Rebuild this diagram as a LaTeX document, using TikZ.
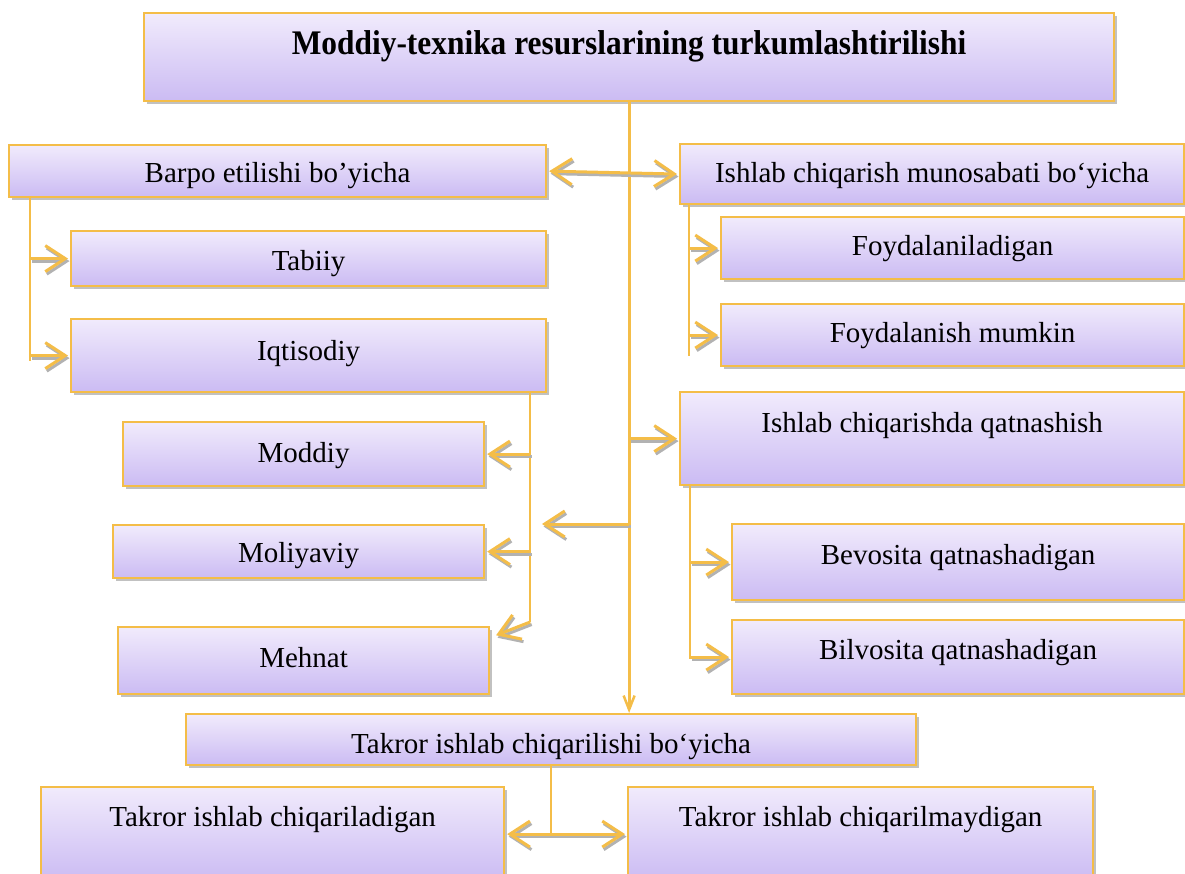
\documentclass[tikz,border=0pt]{standalone}
\usepackage{fontspec}
\setmainfont{Liberation Serif}
\usetikzlibrary{arrows.meta, shadows, calc}

\definecolor{boxtop}{RGB}{241,235,252}
\definecolor{boxbottom}{RGB}{203,187,243}
\definecolor{rim}{RGB}{244,189,72}

\tikzset{
  resbox/.style={draw=rim, line width=2.2pt, top color=boxtop, bottom color=boxbottom,
    drop shadow={shadow xshift=2.5pt, shadow yshift=-3pt, fill=black!40, opacity=.6},
    anchor=north west, inner sep=0pt, font=\fontsize{29}{34}\selectfont},
  txt/.style 2 args={text height=#1pt, text depth=#2pt},
  link/.style={draw=rim, line width=2.4pt},
  barb/.tip={Straight Barb[length=20pt 0 0, width=26pt 0 0, line width=3pt]},
  arr/.style={draw=rim, line width=3pt, -barb, shorten >=2pt,
    preaction={draw=black!30, line width=3pt, -barb, shorten >=2pt,
      transform canvas={shift={(1.5pt,-2.5pt)}}}},
  arrboth/.style={draw=rim, line width=3pt, barb-barb, shorten >=2pt, shorten <=2pt,
    preaction={draw=black!30, line width=3pt, barb-barb, shorten >=2pt, shorten <=2pt,
      transform canvas={shift={(1.5pt,-2.5pt)}}}},
}

\begin{document}
\begin{tikzpicture}[x=1pt, y=-1pt]
  \fill[white] (0,0) rectangle (1185,874);
  \clip (0,0) rectangle (1185,874);

  %heading
  \node[resbox, minimum width=970pt, minimum height=88pt, txt={24}{30},
    font=\fontsize{34.5}{40}\selectfont\bfseries] (title) at (143,12)
    {\scalebox{0.91}[1]{Moddiy-texnika resurslarining turkumlashtirilishi}};

  %left column
  \node[resbox, minimum width=537pt, minimum height=52pt, txt={29}{6}] (barpo) at (8,144) {Barpo etilishi bo’yicha};
  \node[resbox, minimum width=475pt, minimum height=55pt, txt={30}{6}] (tabiiy) at (70,230) {Tabiiy};
  \node[resbox, minimum width=475pt, minimum height=73pt, txt={20}{10}] (iqtis) at (70,318) {Iqtisodiy};
  \node[resbox, minimum width=361pt, minimum height=64pt, txt={23}{6}] (moddiy) at (122,421) {Moddiy};
  \node[resbox, minimum width=371pt, minimum height=53pt, txt={28}{6}] (moliya) at (112,524) {Moliyaviy};
  \node[resbox, minimum width=371pt, minimum height=67pt, txt={20}{6}] (mehnat) at (117,626) {Mehnat};

  %right column
  \node[resbox, minimum width=504pt, minimum height=60pt, txt={23}{6}] (munos) at (679,143) {Ishlab chiqarish munosabati bo‘yicha};
  \node[resbox, minimum width=463pt, minimum height=62pt, txt={21}{6}] (foyda1) at (720,216) {Foydalaniladigan};
  \node[resbox, minimum width=463pt, minimum height=62pt, txt={21}{6}] (foyda2) at (720,303) {Foydalanish mumkin};
  \node[resbox, minimum width=504pt, minimum height=93pt, txt={20}{32}] (qatnash) at (679,391) {Ishlab chiqarishda qatnashish};
  \node[resbox, minimum width=452pt, minimum height=76pt, txt={20}{15}] (bevos) at (731,523) {Bevosita qatnashadigan};
  \node[resbox, minimum width=452pt, minimum height=74pt, txt={20}{15}] (bilvos) at (731,619) {Bilvosita qatnashadigan};

  %bottom row
  \node[resbox, minimum width=730pt, minimum height=51pt, txt={34}{6}] (takror) at (185,713) {Takror ishlab chiqarilishi bo‘yicha};
  \node[resbox, minimum width=463pt, minimum height=94pt, txt={20}{35}] (chiq) at (40,786) {Takror ishlab chiqariladigan};
  \node[resbox, minimum width=465pt, minimum height=94pt, txt={20}{35}] (chiqmas) at (627,786) {Takror ishlab chiqarilmaydigan};

  %main trunk
  \draw[link, line width=2.8pt, -{Straight Barb[length=14pt 0 0, width=11pt 0 0, line width=2.5pt]}] (title.south) -- (title.south |- takror.north);
  \draw[arrboth] (barpo.east) -- (munos.west);
  \coordinate (lfree) at (540,524);
  \draw[arr] (title.south |- lfree) -- (lfree);
  \draw[arr] (title.south |- qatnash.west) -- (qatnash.west);

  %barpo branches
  \coordinate (bstem) at ($(barpo.south west)+(22,0)$);
  \draw[link] (bstem) -- ($(bstem |- iqtis.west)+(0,5)$);
  \draw[arr] (bstem |- tabiiy.west) -- (tabiiy.west);
  \draw[arr] (bstem |- iqtis.west) -- (iqtis.west);

  %iqtisodiy branches
  \coordinate (istem) at ($(iqtis.south east)+(-17,0)$);
  \coordinate (iend) at ($(istem |- mehnat.north)+(0,-4)$);
  \draw[link] (istem) -- (iend);
  \draw[arr] (istem |- moddiy.east) -- (moddiy.east);
  \draw[arr] (istem |- moliya.east) -- (moliya.east);
  \draw[arr] (iend) -- ($(mehnat.north east)+(4,10)$);

  %munosabat branches
  \coordinate (rstem) at ($(munos.south west)+(10,0)$);
  \draw[link] (rstem) -- ($(rstem |- foyda2.west)+(0,21)$);
  \draw[arr] (rstem |- foyda1.west) -- (foyda1.west);
  \draw[arr] (rstem |- foyda2.west) -- (foyda2.west);

  %qatnashish branches
  \coordinate (qstem) at ($(qatnash.south west)+(11,0)$);
  \draw[link] (qstem) -- ($(qstem |- bilvos.west)+(0,2)$);
  \draw[arr] (qstem |- bevos.west) -- (bevos.west);
  \draw[arr] (qstem |- bilvos.west) -- (bilvos.west);

  %takror branches
  \draw[link] (takror.south) -- (takror.south |- chiq.east);
  \draw[arrboth] (chiq.east) -- (chiqmas.west);
\end{tikzpicture}
\end{document}
